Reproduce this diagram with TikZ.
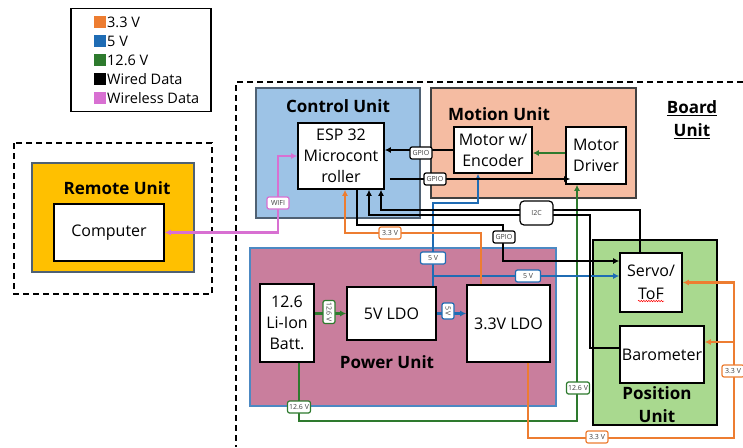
\documentclass[tikz,border=0pt]{standalone}
\usepackage{fontspec}
\setmainfont{Open Sans}
\usetikzlibrary{arrows.meta, decorations.pathmorphing}

\definecolor{vorange}{HTML}{ED7D31}
\definecolor{vblue}{HTML}{1F6CB4}
\definecolor{vgreen}{HTML}{2E7A2E}
\definecolor{vpink}{HTML}{D870D2}
\definecolor{ctrlfill}{HTML}{9DC3E6}
\definecolor{motfill}{HTML}{F5BCA2}
\definecolor{pwrfill}{HTML}{C97E9D}
\definecolor{posfill}{HTML}{A9D98F}
\definecolor{remfill}{HTML}{FFC000}
\definecolor{tagtext}{HTML}{404040}

\begin{document}
\begin{tikzpicture}[x=1pt, y=-1pt,
    >={Latex[length=6pt, width=6pt]},
    unit/.style={draw, line width=1.1pt, inner sep=0pt},
    box/.style={draw, fill=white, line width=1.6pt, inner sep=0pt, align=center,
                font=\fontsize{16}{21}\selectfont},
    title/.style={inner sep=0pt, align=center, font=\bfseries\fontsize{17}{23}\selectfont},
    tag/.style={draw, fill=white, rounded corners=2pt, line width=1.2pt, inner sep=1.5pt,
                minimum height=12pt, minimum width=22pt, text=tagtext,
                font=\fontsize{7}{8}\selectfont},
    pwr/.style={line width=2.4pt},
    data/.style={line width=2.6pt, black}]

    \useasboundingbox (0,0) rectangle (743,447);

    % --- 1. Legend ---
    \node[draw, line width=1.3pt, minimum width=140pt, minimum height=103pt] (legend) at (141,60) {};
    \foreach \col/\txt [count=\i] in {vorange/3.3 V, vblue/5 V, vgreen/12.6 V, black/Wired Data, vpink/Wireless Data} {
        \node[fill=\col, minimum size=12pt, inner sep=0pt] (sw\i) at (100, 3+19*\i) {};
        \node[anchor=west, inner sep=0pt, font=\fontsize{14.5}{16}\selectfont] (lg\i) at (107, 3+19*\i) {\txt};
    }

    % --- 2. Dashed groups ---
    \draw[line width=1.2pt, dash pattern=on 6pt off 4pt] (14,143) rectangle (212,294);
    \draw[line width=1.2pt, dash pattern=on 6pt off 4pt] (743,82) -- (236,82) -- (236,447);
    \node[title] (tBoard) at (692,120) {\underline{Board}\\\underline{Unit}};

    % --- 3. Units ---
    \node[unit, fill=remfill, draw=ctrlfill!50!black, minimum width=162pt, minimum height=109pt] (remote) at (113,217.5) {};
    \node[unit, fill=ctrlfill, draw=ctrlfill!50!black, minimum width=164pt, minimum height=130pt] (control) at (338,153) {};
    \node[unit, fill=motfill, draw=black!75, minimum width=205pt, minimum height=110pt] (motion) at (533.5,143) {};
    \node[unit, fill=pwrfill, draw=vblue!80, minimum width=306pt, minimum height=158pt] (power) at (403,327) {};
    \node[unit, fill=posfill, draw=black, line width=1.4pt, minimum width=124pt, minimum height=185pt] (position) at (655,332.5) {};

    \node[title] (tRemote) at (117,188) {Remote Unit};
    \node[title] (tCtrl) at (338,106) {Control Unit};
    \node[title] (tMotion) at (499,114) {Motion Unit};
    \node[title] (tPower) at (387,362) {Power Unit};
    \node[title] (tPos) at (657,405) {Position\\Unit};

    % --- 4. Blocks ---
    \node[box, minimum width=110pt, minimum height=57pt] (PC) at (109,232.5) {Computer};
    \node[box, minimum width=86pt, minimum height=66pt] (ESP) at (341,156) {ESP 32\\Microcont\\roller};
    \node[box, minimum width=78pt, minimum height=46pt] (Enc) at (493,150) {Motor w/\\Encoder};
    \node[box, minimum width=60pt, minimum height=57pt] (Drv) at (596,155.5) {Motor\\Driver};
    \node[box, minimum width=54pt, minimum height=78pt] (Batt) at (287,323) {12.6\\Li-Ion\\Batt.};
    \node[box, minimum width=89pt, minimum height=53pt] (LDO5) at (391.5,313.5) {5V LDO};
    \node[box, minimum width=83pt, minimum height=77pt] (LDO3) at (508.5,323.5) {3.3V LDO};
    \node[box, minimum width=62pt, minimum height=59pt, font=\fontsize{16}{23}\selectfont] (Servo) at (651,282.5) {Servo/\\ToF};
    \node[box, minimum width=84pt, minimum height=57pt] (Baro) at (662,354.5) {Barometer};
    \draw[red, line width=0.5pt, decorate, decoration={snake, amplitude=0.7pt, segment length=2.5pt}] (638,301) -- (664,301);

    % --- 5. Bend points ---
    \coordinate (wifiB) at (278,232.5);   % wifi corner
    \coordinate (vB) at (478,203);        % 5V corner under encoder
    \coordinate (vT) at (433,276);        % 5V tee to servo
    \coordinate (oB) at (345,233);        % 3.3V corner under ESP
    \coordinate (oC) at (734,438);        % 3.3V lower right corner
    \coordinate (gC) at (577,421);        % 12.6V corner
    \coordinate (dB) at (503,225);        % GPIO to servo
    \coordinate (bB) at (590,215);        % I2C to barometer
    \coordinate (sB) at (381,210);        % I2C to servo

    % --- 6. Wireless ---
    \draw[pwr, vpink, <->] (PC.east) -- (wifiB) |- (ESP.west);

    % --- 7. Power lines ---
    \draw[pwr, vgreen, ->] (LDO5.west -| Batt.east) -- (LDO5.west);
    \draw[pwr, vblue, ->] (LDO5.east) -- (LDO5.east -| LDO3.west);
    \draw[pwr, vgreen, ->] ([xshift=12pt]Batt.south) |- (gC) -- ([xshift=-19pt]Drv.south);
    \draw[pwr, vgreen, ->] ([yshift=2.5pt]Drv.west) -- ([yshift=2.5pt]Drv.west -| Enc.east);
    \draw[pwr, vblue, ->] ([xshift=41.5pt]LDO5.north) |- (vB) -- ([xshift=-15pt]Enc.south);
    \draw[pwr, vblue, ->] (vT) -- ([yshift=6.5pt]Servo.west);
    \draw[pwr, vorange, ->] ([xshift=-27.5pt]LDO3.north) |- (oB) -- ([xshift=4pt]ESP.south);
    \draw[pwr, vorange, ->] ([xshift=19.5pt]LDO3.south) |- (oC) |- (Servo.east);
    \draw[pwr, vorange, ->] (oC |- 0,342) -- ([yshift=12.5pt]Baro.east);

    % --- 8. Wired data ---
    \draw[data, ->] (Enc.west) -- (Enc.west -| ESP.east);
    \draw[data, ->] ([xshift=5pt, yshift=-23pt]ESP.east) -- ([xshift=5pt, yshift=-23pt]ESP.east -| Drv.west);
    \draw[data, ->] ([xshift=16pt]ESP.south) |- (dB) |- ([yshift=21.5pt]Servo.west);
    \draw[data, ->] ([yshift=6.5pt]Baro.west) -| (bB) -| ([xshift=28pt]ESP.south);
    \draw[data, ->] ([xshift=-11pt]Servo.north) |- (sB) -- ([xshift=40pt]ESP.south);

    % --- 9. Line tags ---
    \node[tag, draw=vpink] (tWifi) at (278,203) {WIFI};
    \node[tag] (tGpioA) at (421,153) {GPIO};
    \node[tag] (tGpioB) at (435,179) {GPIO};
    \node[tag] (tGpioC) at (504,237) {GPIO};
    \node[tag, minimum width=33pt, minimum height=24pt, rounded corners=4pt] (tI2C) at (536.5,213) {I2C};
    \node[tag, draw=vorange] (tOrA) at (390,233) {3.3 V};
    \node[tag, draw=vorange] (tOrB) at (733,371) {3.3 V};
    \node[tag, draw=vorange] (tOrC) at (597,437) {3.3 V};
    \node[tag, draw=vblue, minimum width=25pt] (tBlA) at (433,258) {5 V};
    \node[tag, draw=vblue, minimum width=25pt] (tBlB) at (528,276) {5 V};
    \node[tag, draw=vblue, minimum width=16pt, rotate=-90] (tBlC) at (448,311) {5 V};
    \node[tag, draw=vgreen, minimum width=20pt, rotate=-90] (tGrA) at (329,312) {12.6 V};
    \node[tag, draw=vgreen] (tGrB) at (299,407) {12.6 V};
    \node[tag, draw=vgreen] (tGrC) at (578,388) {12.6 V};

\end{tikzpicture}
\end{document}
